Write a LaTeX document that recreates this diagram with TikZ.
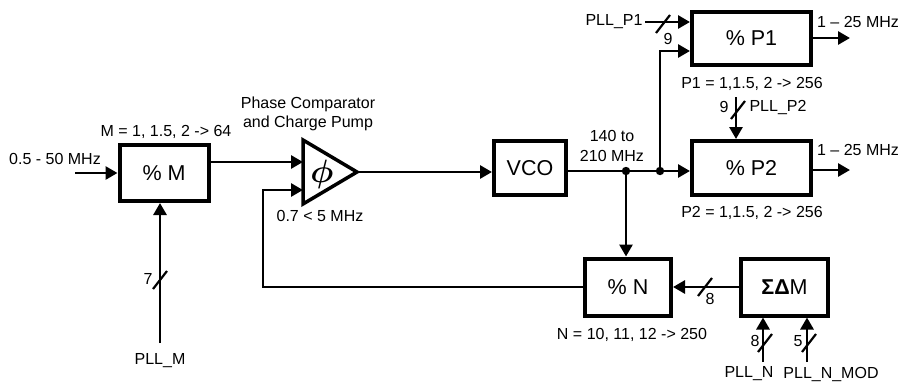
\documentclass[tikz,border=0pt]{standalone}
\usepackage{amsmath,bm}
\usepackage{fontspec}
\setmainfont{Liberation Sans}
\usetikzlibrary{arrows.meta,positioning,calc}

\begin{document}
\begin{tikzpicture}[
    x=1pt, y=-1pt,
    every node/.style={font=\fontsize{16}{19.5}\selectfont, inner sep=0pt},
    blockbox/.style={draw, line width=4pt, inner sep=0pt,
      font=\fontsize{21.5}{24}\selectfont},
    sigline/.style={line width=2.8pt, -{Triangle[length=12pt, width=13pt]}},
    plainline/.style={line width=2.8pt},
  ]
    \newcommand{\busmark}[1]{%
      \draw[line width=2.2pt] (#1) +(-7,9) -- +(7,-9);
    }
    \useasboundingbox (0,0) rectangle (901,383);

    % ---- reference divider M ----
    \node[blockbox, minimum width=89pt, minimum height=56pt] (divM) at (164,173) {\% M};
    \node (labM) at (166,132) {M = 1, 1.5, 2 -> 64};
    \node (inclk) at (55,159) {0.5 - 50 MHz};
    \coordinate (inM) at (75,173);
    \draw[sigline] (inM) -- (divM.west);
    \coordinate (busM) at (160,343);
    \node (pllM) at (160,361) {PLL\_M};
    \node (bitsM) at (148,279) {7};
    \draw[sigline] (busM) -- (busM |- divM.south);
    \busmark{160,280}

    % ---- phase comparator and charge pump ----
    \draw[line width=3.5pt, line join=miter] (303,140) -- (357,172) -- (303,204) -- cycle;
    \node[font=\fontsize{24}{24}\selectfont] (pfd) at (322,174) {\scalebox{1.3}{$\bm{\phi}$}};
    \coordinate (pfdA) at (303,162);
    \coordinate (pfdB) at (303,190);
    \coordinate (pfdOut) at (357,172);
    \node[align=center] (labPfd) at (308,114) {Phase Comparator\\and Charge Pump};
    \node (labRef) at (320,216) {0.7 < 5 MHz};
    \draw[sigline] (divM.east |- pfdA) -- (pfdA);

    % ---- VCO and output dividers ----
    \node[blockbox, minimum width=72pt, minimum height=54pt] (vco) at (530,168) {VCO};
    \draw[sigline] (pfdOut) -- (pfdOut -| vco.west);
    \node[align=center] (labVco) at (612,146) {140 to\\210 MHz};
    \node[blockbox, minimum width=119pt, minimum height=53pt] (divP1) at (751.5,38.5) {\% P1};
    \node[blockbox, minimum width=119pt, minimum height=54pt] (divP2) at (751.5,168) {\% P2};
    \coordinate (tapN) at (626,171);
    \coordinate (tapP) at (660,171);
    \fill (tapN) circle (4.2pt);
    \fill (tapP) circle (4.2pt);
    \draw[plainline] (vco.east |- tapN) -- (tapP);
    \draw[sigline] (tapP) -- (tapP -| divP2.west);
    \draw[sigline] (tapP) |- (divP1.west |- 0,51);

    \node (pllP1) at (614,22) {PLL\_P1};
    \coordinate (busP1) at (645,22);
    \draw[sigline] (busP1) -- (busP1 -| divP1.west);
    \busmark{663,24}
    \node (bitsP1) at (668,39) {9};
    \node (labP1) at (752,84) {P1 = 1,1.5, 2 -> 256};

    \coordinate (busP2) at (736,97);
    \draw[sigline] (busP2) -- (busP2 |- divP2.north);
    \busmark{738,110}
    \node (bitsP2) at (724,107) {9};
    \node (pllP2) at (778,108) {PLL\_P2};
    \node (labP2) at (752,213) {P2 = 1,1.5, 2 -> 256};

    \coordinate (outP1) at (850,38);
    \coordinate (outP2) at (850,170);
    \draw[sigline] (divP1.east |- outP1) -- (outP1);
    \draw[sigline] (divP2.east |- outP2) -- (outP2);
    \node (fP1) at (858,22) {1 -- 25 MHz};
    \node (fP2) at (858,150) {1 -- 25 MHz};

    % ---- feedback divider N ----
    \node[blockbox, minimum width=86pt, minimum height=57pt] (divN) at (628,287) {\% N};
    \node[blockbox, minimum width=87pt, minimum height=57pt] (sdm) at (784.5,287) {{\bfseries ΣΔ}M};
    \node (labN) at (632,335) {N = 10, 11, 12 -> 250};
    \draw[sigline] (tapN) -- (tapN |- divN.north);
    \draw[sigline] (sdm.west) -- (divN.east);
    \busmark{705,287}
    \node (bitsSdm) at (710,299) {8};
    \coordinate (fbX) at (263,190);
    \draw[sigline] (divN.west) -| (fbX) -- (pfdB);

    \coordinate (busN) at (763,362);
    \coordinate (busMod) at (807,362);
    \draw[sigline] (busN) -- (busN |- sdm.south);
    \draw[sigline] (busMod) -- (busMod |- sdm.south);
    \busmark{765,343}
    \busmark{809,343}
    \node (bitsN) at (755,341) {8};
    \node (bitsMod) at (798,341) {5};
    \node (pllN) at (749,374) {PLL\_N};
    \node (pllMod) at (831,374) {PLL\_N\_MOD};
\end{tikzpicture}
\end{document}
